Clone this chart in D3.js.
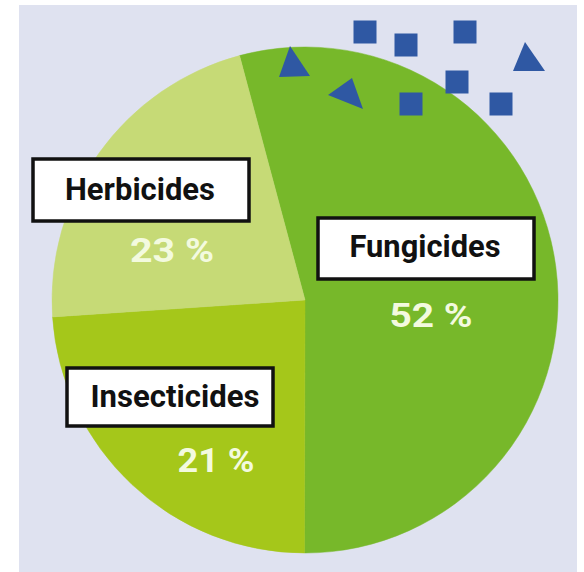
<!DOCTYPE html>
<html>
<head>
<meta charset="utf-8">
<script src="https://cdn.jsdelivr.net/npm/d3@7"></script>
<style>
  html, body { margin: 0; padding: 0; background: #ffffff; }
  svg { display: block; }
</style>
</head>
<body>
<svg id="chart" width="584" height="572"></svg>
<script>
// ---- data ----
const categories    = ["Fungicides", "Insecticides", "Herbicides"];
const percentLabels = [52, 21, 23];            // printed values
const sliceShares   = [54.2, 23.9, 21.9];      // angular shares as drawn in the picture
const sliceColors   = ["#77b82a", "#a5c71a", "#c6da76"];

// decorative markers (offsets from pie centre)
const decoSquares   = [[60, -268], [101, -255], [160, -268], [152, -218], [106, -196], [196, -196]];
const decoTriangles = [
  [[-15, -254], [-26, -223], [5, -224]],
  [[23, -205], [47, -222], [58, -191]],
  [[220, -258], [208, -229], [240, -229]]
];

// ---- layout ----
const W = 584, H = 572;
const cx = 305, cy = 300, R = 253;
const boxes = {
  Herbicides:   { x: 33,  y: 159, w: 216, h: 62, tx: 140, ty: 200, tw: 150, px: 172, py: 262, pw: 84 },
  Fungicides:   { x: 318, y: 218, w: 216, h: 61, tx: 425, ty: 257, tw: 151, px: 431, py: 327, pw: 83 },
  Insecticides: { x: 67,  y: 368, w: 206, h: 58, tx: 175, ty: 407, tw: 169, px: 216, py: 472, pw: 77 }
};

const svg = d3.select("#chart");
svg.append("rect").attr("x", 19).attr("y", 5).attr("width", 558).attr("height", 567)
  .attr("fill", "#dfe2f0");

const g = svg.append("g").attr("transform", `translate(${cx},${cy})`);

const pie = d3.pie().sort(null).startAngle(-15 * Math.PI / 180).endAngle(345 * Math.PI / 180);
const arcs = pie(sliceShares);
const arc = d3.arc().innerRadius(0).outerRadius(R);
const color = d3.scaleOrdinal().domain(categories).range(sliceColors);

g.selectAll("path.slice").data(arcs).join("path")
  .attr("class", "slice")
  .attr("d", arc)
  .attr("fill", (d, i) => color(categories[i]))
  .attr("stroke", (d, i) => color(categories[i]))
  .attr("stroke-width", 0.5);

// decorations
g.selectAll("rect.sq").data(decoSquares).join("rect")
  .attr("class", "sq")
  .attr("x", d => d[0] - 11.5).attr("y", d => d[1] - 11.5)
  .attr("width", 23).attr("height", 23)
  .attr("fill", "#2f58a3");
g.selectAll("path.tri").data(decoTriangles).join("path")
  .attr("class", "tri")
  .attr("d", d => "M" + d.map(p => p.join(",")).join("L") + "Z")
  .attr("fill", "#2f58a3");

// labels
const fontFam = "'Liberation Sans Narrow', 'Roboto', 'Liberation Sans', sans-serif";
categories.forEach((c, i) => {
  const b = boxes[c];
  svg.append("rect")
    .attr("x", b.x).attr("y", b.y).attr("width", b.w).attr("height", b.h)
    .attr("fill", "#ffffff").attr("stroke", "#111111").attr("stroke-width", 3.5);
  svg.append("text")
    .attr("x", b.tx).attr("y", b.ty)
    .attr("text-anchor", "middle")
    .attr("font-family", fontFam).attr("font-weight", "bold").attr("font-size", 32)
    .attr("textLength", b.tw).attr("lengthAdjust", "spacingAndGlyphs")
    .attr("fill", "#111111")
    .text(c);
  svg.append("text")
    .attr("x", b.px).attr("y", b.py)
    .attr("text-anchor", "middle")
    .attr("font-family", fontFam).attr("font-weight", "bold").attr("font-size", 34)
    .attr("textLength", b.pw).attr("lengthAdjust", "spacingAndGlyphs")
    .attr("fill", "#f3fadf")
    .text(percentLabels[i] + " %");
});
</script>
</body>
</html>
